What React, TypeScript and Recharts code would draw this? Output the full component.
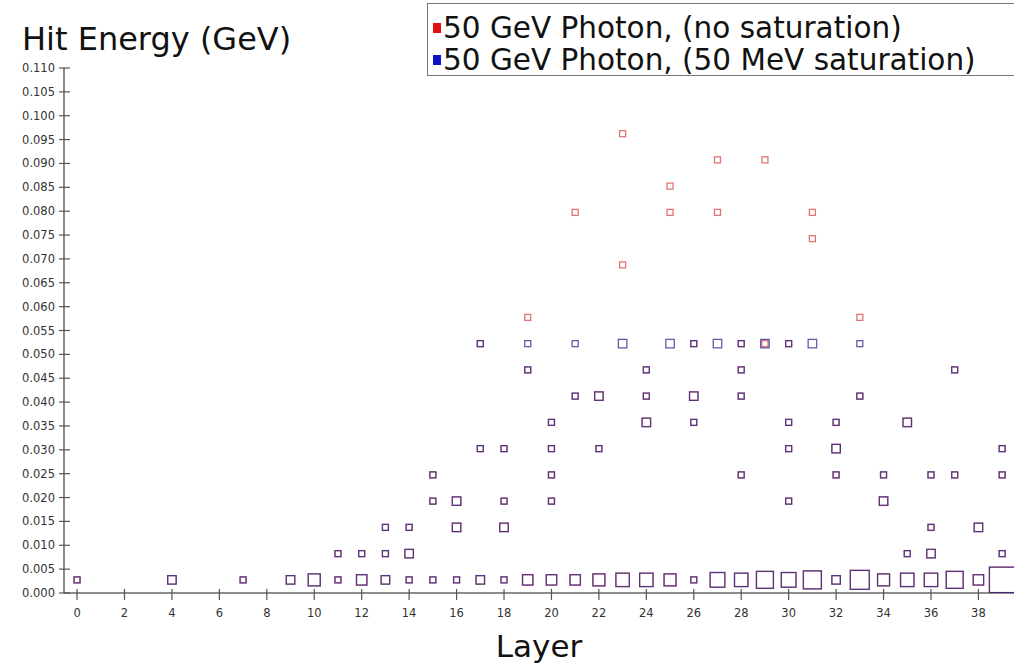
import React from 'react';
import { ScatterChart, Scatter, XAxis, YAxis, ZAxis, Legend, Label } from 'recharts';

// Layer tick labels and energy tick labels
const layerTicks = [0, 2, 4, 6, 8, 10, 12, 14, 16, 18, 20, 22, 24, 26, 28, 30, 32, 34, 36, 38];
const energyTicks = [
  0, 0.005, 0.01, 0.015, 0.02, 0.025, 0.03, 0.035, 0.04, 0.045, 0.05, 0.055,
  0.06, 0.065, 0.07, 0.075, 0.08, 0.085, 0.09, 0.095, 0.1, 0.105, 0.11,
];

// Series names (legend order)
const seriesNames = ['50 GeV Photon, (no saturation)', '50 GeV Photon, (50 MeV saturation)'];

// Hits below saturation, identical in both series: [layer, energy (GeV), hits]
const sharedHits: [number, number, number][] = [
  [0, 0.00275, 1],
  [4, 0.00275, 2],
  [7, 0.00275, 1],
  [9, 0.00275, 2],
  [10, 0.00275, 4],
  [11, 0.00275, 1], [11, 0.00825, 1],
  [12, 0.00275, 3], [12, 0.00825, 1],
  [13, 0.00275, 2], [13, 0.00825, 1], [13, 0.01375, 1],
  [14, 0.00275, 1], [14, 0.00825, 2], [14, 0.01375, 1],
  [15, 0.00275, 1], [15, 0.01925, 1], [15, 0.02475, 1],
  [16, 0.00275, 1], [16, 0.01375, 2], [16, 0.01925, 2],
  [17, 0.00275, 2], [17, 0.03025, 1],
  [18, 0.00275, 1], [18, 0.01375, 2], [18, 0.01925, 1], [18, 0.03025, 1],
  [19, 0.00275, 3], [19, 0.04675, 1],
  [20, 0.00275, 3], [20, 0.01925, 1], [20, 0.02475, 1], [20, 0.03025, 1], [20, 0.03575, 1],
  [21, 0.00275, 3], [21, 0.04125, 1],
  [22, 0.00275, 4], [22, 0.03025, 1], [22, 0.04125, 2],
  [23, 0.00275, 5],
  [24, 0.00275, 5], [24, 0.03575, 2], [24, 0.04125, 1], [24, 0.04675, 1],
  [25, 0.00275, 4],
  [26, 0.00275, 1], [26, 0.03575, 1], [26, 0.04125, 2],
  [27, 0.00275, 6],
  [28, 0.00275, 5], [28, 0.02475, 1], [28, 0.04125, 1], [28, 0.04675, 1],
  [29, 0.00275, 8],
  [30, 0.00275, 6], [30, 0.01925, 1], [30, 0.03025, 1], [30, 0.03575, 1],
  [31, 0.00275, 9],
  [32, 0.00275, 2], [32, 0.02475, 1], [32, 0.03025, 2], [32, 0.03575, 1],
  [33, 0.00275, 10], [33, 0.04125, 1],
  [34, 0.00275, 4], [34, 0.01925, 2], [34, 0.02475, 1],
  [35, 0.00275, 5], [35, 0.00825, 1], [35, 0.03575, 2],
  [36, 0.00275, 5], [36, 0.00825, 2], [36, 0.01375, 1], [36, 0.02475, 1],
  [37, 0.00275, 8], [37, 0.02475, 1], [37, 0.04675, 1],
  [38, 0.00275, 3], [38, 0.01375, 2],
  [39, 0.00275, 18], [39, 0.00825, 1], [39, 0.02475, 1], [39, 0.03025, 1],
];

// High-energy hits without saturation
const unsaturatedHigh: [number, number, number][] = [
  [17, 0.05225, 1], [19, 0.05775, 1], [21, 0.07975, 1], [23, 0.06875, 1], [23, 0.09625, 1],
  [25, 0.07975, 1], [25, 0.08525, 1], [26, 0.05225, 1], [27, 0.07975, 1], [27, 0.09075, 1],
  [28, 0.05225, 1], [29, 0.05225, 1], [29, 0.09075, 1], [30, 0.05225, 1], [31, 0.07425, 1],
  [31, 0.07975, 1], [33, 0.05775, 1],
];

// The same hits, saturated at 50 MeV
const saturatedHigh: [number, number, number][] = [
  [17, 0.05225, 1], [19, 0.05225, 1], [21, 0.05225, 1], [23, 0.05225, 2], [25, 0.05225, 2],
  [26, 0.05225, 1], [27, 0.05225, 2], [28, 0.05225, 1], [29, 0.05225, 2], [30, 0.05225, 1],
  [31, 0.05225, 2], [33, 0.05225, 1],
];

const toPoints = (rows: [number, number, number][]) =>
  rows.map(([layer, energy, hits]) => ({ layer, energy, hits }));

const noSaturation = toPoints([...sharedHits, ...unsaturatedHigh]);
const withSaturation = toPoints([...sharedHits, ...saturatedHigh]);

const RED = '#e31212';
const BLUE = '#1212c8';
const RED_MARK = '#d01818';
const BLUE_MARK = '#1a1a84';
const FONT = '"DejaVu Sans", Verdana, sans-serif';

const makeSquare = (color: string, opacity: number) => (props: any) => {
  const { cx, cy, width } = props;
  if (cx == null || cy == null) return <g />;
  const s = width;
  return (
    <rect
      x={cx - s / 2}
      y={cy - s / 2}
      width={s}
      height={s}
      fill="none"
      stroke={color}
      strokeOpacity={opacity}
      strokeWidth={1.3}
    />
  );
};

const YTick = (props: any) => {
  const { x, y, payload } = props;
  return (
    <g>
      <line x1={x - 5} x2={x + 6} y1={y} y2={y} stroke="#555" strokeWidth={1.2} />
      <text x={x - 9} y={y + 4} textAnchor="end" fontSize={11.5} fill="#333" fontFamily={FONT}>
        {Number(payload.value).toFixed(3)}
      </text>
    </g>
  );
};

const XTick = (props: any) => {
  const { x, y, payload } = props;
  return (
    <g>
      <line x1={x} x2={x} y1={y - 4} y2={y + 7} stroke="#555" strokeWidth={1.2} />
      <text x={x} y={y + 24} textAnchor="middle" fontSize={11.5} fill="#333" fontFamily={FONT}>
        {payload.value}
      </text>
    </g>
  );
};

const legendColor: Record<string, string> = {
  [seriesNames[0]]: RED,
  [seriesNames[1]]: BLUE,
};

const renderLegend = (props: any) => {
  const payload = [...(props.payload || [])].sort(
    (a: any, b: any) => seriesNames.indexOf(a.value) - seriesNames.indexOf(b.value)
  );
  return (
    <div
      style={{
        border: '1px solid #777',
        background: '#fff',
        padding: '8px 6px 0px 5px',
        fontFamily: FONT,
        fontSize: 29.5,
        lineHeight: '33px',
        color: '#111',
        whiteSpace: 'nowrap',
        boxSizing: 'border-box',
        width: 588,
        height: 73,
        overflow: 'visible',
      }}
    >
      {payload.map((entry: any) => (
        <div key={String(entry.value)} style={{ display: 'flex', alignItems: 'center', height: 32 }}>
          <span
            style={{
              display: 'inline-block',
              width: 8,
              height: 10,
              background: legendColor[entry.value] || entry.color,
              marginRight: 2,
            }}
          />
          <span>{entry.value}</span>
        </div>
      ))}
    </div>
  );
};

export default function App() {
  return (
    <div style={{ position: 'absolute', left: 0, top: 0, width: 1014, height: 666, background: '#fff' }}>
      <ScatterChart width={1014} height={666} margin={{ top: 68, right: 0, bottom: 0, left: 0 }}>
        <XAxis
          type="number"
          dataKey="layer"
          domain={[-0.55, 39.5]}
          allowDataOverflow
          ticks={layerTicks}
          interval={0}
          height={73}
          tickSize={0}
          tickMargin={0}
          tickLine={false}
          tick={<XTick />}
          axisLine={{ stroke: '#666', strokeWidth: 1.5 }}
        >
          <Label
            value="Layer"
            position="insideBottom"
            offset={9}
            style={{ fontSize: 31, fill: '#111', fontFamily: FONT }}
          />
        </XAxis>
        <YAxis
          type="number"
          dataKey="energy"
          domain={[0, 0.11]}
          allowDataOverflow
          ticks={energyTicks}
          interval={0}
          width={64}
          tickSize={0}
          tickMargin={0}
          tickLine={false}
          tick={<YTick />}
          axisLine={{ stroke: '#666', strokeWidth: 1.5 }}
          label={{
            content: (p: any) => {
              const vb = p.viewBox || { x: 0, y: 68 };
              return (
                <text x={vb.x + 22} y={vb.y - 18} fontSize={32} fill="#111" fontFamily={FONT}>
                  Hit Energy (GeV)
                </text>
              );
            },
          }}
        />
        <ZAxis type="number" dataKey="hits" domain={[0, 18]} range={[0, 509]} />
        <Legend
          layout="vertical"
          align="center"
          verticalAlign="middle"
          content={renderLegend}
          wrapperStyle={{ left: 427, top: 3, width: 588 }}
        />
        <Scatter
          name={seriesNames[0]}
          data={noSaturation}
          fill={RED}
          legendType="square"
          shape={makeSquare(RED_MARK, 0.6)}
          isAnimationActive={false}
        />
        <Scatter
          name={seriesNames[1]}
          data={withSaturation}
          fill={BLUE}
          legendType="square"
          shape={makeSquare(BLUE_MARK, 0.7)}
          isAnimationActive={false}
        />
      </ScatterChart>
    </div>
  );
}
